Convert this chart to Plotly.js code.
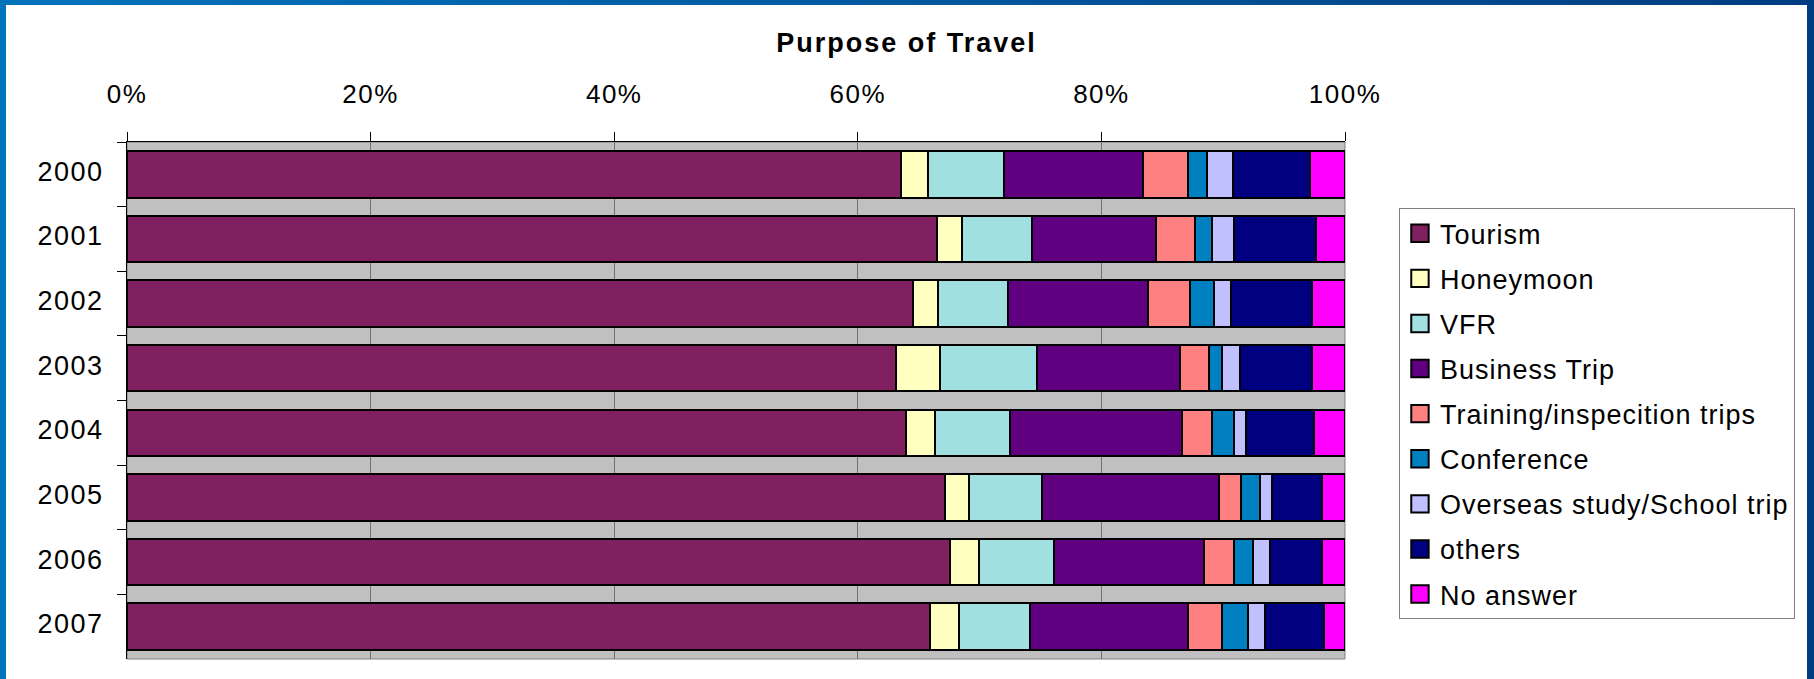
<!DOCTYPE html>
<html><head><meta charset="utf-8">
<script src="https://cdn.plot.ly/plotly-3.0.1.min.js"></script>
<style>
html,body{margin:0;padding:0;}
body{width:1814px;height:679px;background:linear-gradient(to right,#0073BD,#003D80);overflow:hidden;position:relative;}
#chart{position:absolute;left:6px;top:5px;width:1801px;height:674px;background:#fff;}
.gtitle{letter-spacing:2px;}
.xtick text,.ytick text{letter-spacing:1.5px;}
.legendtext{letter-spacing:1px;}
</style></head><body><div id="chart"></div>
<script>
const years = ['2000','2001','2002','2003','2004','2005','2006','2007'];
const seriesNames = ['Tourism','Honeymoon','VFR','Business Trip','Training/inspecition trips','Conference','Overseas study/School trip','others','No answer'];
const tourism    = [63.5, 66.5, 64.6, 63.2, 64.0, 67.2, 67.6, 66.0];
const honeymoon  = [2.2, 2.05, 2.0, 3.6, 2.35, 2.0, 2.4, 2.4];
const vfr        = [6.2, 5.75, 5.8, 7.95, 6.2, 6.0, 6.15, 5.8];
const business   = [11.4, 10.2, 11.5, 11.8, 14.15, 14.5, 12.35, 13.0];
const training   = [3.7, 3.15, 3.4, 2.4, 2.4, 1.8, 2.4, 2.75];
const conference = [1.6, 1.4, 1.95, 1.0, 1.8, 1.6, 1.6, 2.2];
const overseas   = [2.1, 1.8, 1.45, 1.55, 1.0, 0.95, 1.4, 1.4];
const others     = [6.3, 6.8, 6.6, 5.85, 5.6, 4.1, 4.25, 4.8];
const noAnswer   = [2.9, 2.35, 2.75, 2.75, 2.55, 1.9, 1.9, 1.75];
const tickValues = [0, 20, 40, 60, 80, 100];
const tickLabels = ['0%', '20%', '40%', '60%', '80%', '100%'];

const seriesValues = [tourism, honeymoon, vfr, business, training, conference, overseas, others, noAnswer];
const colors = ['#802060','#FFFFC0','#A0E0E0','#600080','#FF8080','#0080C0','#C0C0FF','#000080','#FF00FF'];

const traces = seriesNames.map((name, i) => ({
  type: 'bar', orientation: 'h', name: name, legendgroup: 'g' + i,
  y: years, x: seriesValues[i],
  marker: {color: colors[i], line: {color: '#000000', width: 2}},
  hoverinfo: 'name+x'
}));

const FONT = 'Arial, "Liberation Sans", sans-serif';
const layout = {
  width: 1801, height: 674,
  margin: {l: 121, r: 462, t: 137, b: 20},
  paper_bgcolor: '#FFFFFF', plot_bgcolor: '#C0C0C0',
  barmode: 'stack', barnorm: 'percent', bargap: 0.28,
  font: {family: FONT, color: '#000000'},
  title: {text: 'Purpose of Travel', font: {family: FONT, size: 27, weight: 'bold', color: '#000'},
          x: 0.5, xref: 'container', xanchor: 'center', y: 0.944, yref: 'container', yanchor: 'middle'},
  xaxis: {side: 'top', range: [0, 100], tickmode: 'array', tickvals: tickValues, ticktext: tickLabels,
          ticks: 'outside', ticklen: 9, tickwidth: 1, tickcolor: '#000',
          showline: true, linecolor: '#000', linewidth: 1,
          showgrid: true, gridcolor: '#707070', gridwidth: 1, zeroline: false,
          tickfont: {family: FONT, size: 26, color: '#000'}, ticklabelstandoff: 19, fixedrange: true},
  yaxis: {type: 'category', autorange: 'reversed', tickson: 'boundaries',
          ticks: 'outside', ticklen: 9, tickwidth: 1, tickcolor: '#000',
          showline: true, linecolor: '#000', linewidth: 1, showgrid: false, zeroline: false,
          tickfont: {family: FONT, size: 27, color: '#000'}, ticklabelstandoff: 17, ticklabelshift: 3,
          fixedrange: true},
  shapes: [{type: 'rect', xref: 'paper', yref: 'paper', x0: 0, x1: 1, y0: 0, y1: 1,
            line: {color: '#808080', width: 1}, fillcolor: 'rgba(0,0,0,0)', layer: 'below'}],
  legend: {x: 1.0443, xanchor: 'left', y: 0.872, yanchor: 'top',
           bgcolor: '#FFFFFF', bordercolor: '#808080', borderwidth: 1,
           traceorder: 'grouped', tracegroupgap: 7,
           font: {family: FONT, size: 27, color: '#000'}},
  showlegend: true
};

Plotly.newPlot('chart', traces, layout, {displayModeBar: false}).then(function(){
  document.querySelectorAll('.legendpoints path').forEach(function(p){
    const t = p.getAttribute('transform') || '';
    p.setAttribute('transform', t + ' scale(1.45)');
    p.style.vectorEffect = 'non-scaling-stroke';
  });
});
</script></body></html>
